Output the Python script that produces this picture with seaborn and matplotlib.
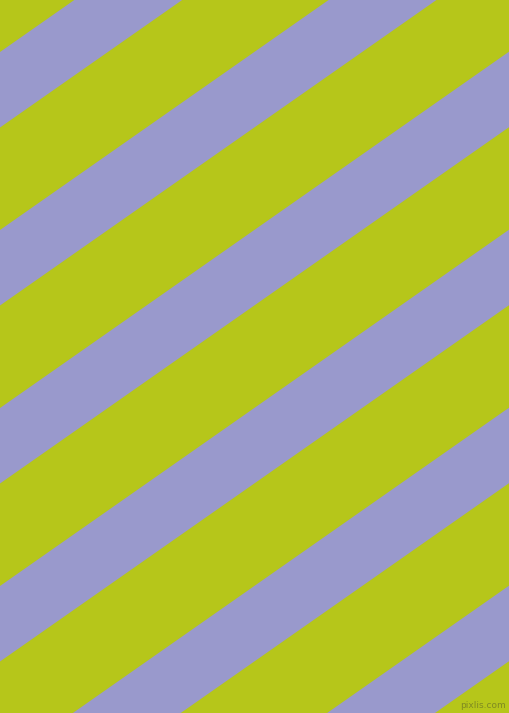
import numpy as np
import matplotlib
matplotlib.use("Agg")
from matplotlib import pyplot as plt
import seaborn as sns

# stripe data (pixel units, y measured down from top at x = 0)
WIDTH, HEIGHT = 509, 713
stripe_offsets = [52, 230, 408, 586, 764, 942]   # top edge of each purple band at x=0
stripe_thickness = 75.5                           # vertical thickness of purple band
slope = 0.7                                       # tan(35 deg), bands rise to the right
green = "#b6c61a"
purple = "#9999cc"

sns.set_theme(style="white")

fig = plt.figure(figsize=(WIDTH / 100, HEIGHT / 100), dpi=100)
ax = fig.add_axes([0, 0, 1, 1])
ax.set_facecolor(green)
fig.set_facecolor(green)

# run the bands a little past the frame so no edge shows at the borders
x = np.array([-20, WIDTH + 20])
for c in stripe_offsets:
    top = c - slope * x
    bottom = c + stripe_thickness - slope * x
    ax.fill_between(x, top, bottom, color=purple, linewidth=0, antialiased=True)

ax.set_xlim(0, WIDTH)
ax.set_ylim(HEIGHT, 0)
ax.axis("off")

# watermark
ax.text(WIDTH - 3, HEIGHT - 3, "pixlis.com", ha="right", va="bottom",
        fontsize=6.5, color="#7f8a22", family="DejaVu Sans")

fig.savefig("out.png", dpi=100, facecolor=green)
